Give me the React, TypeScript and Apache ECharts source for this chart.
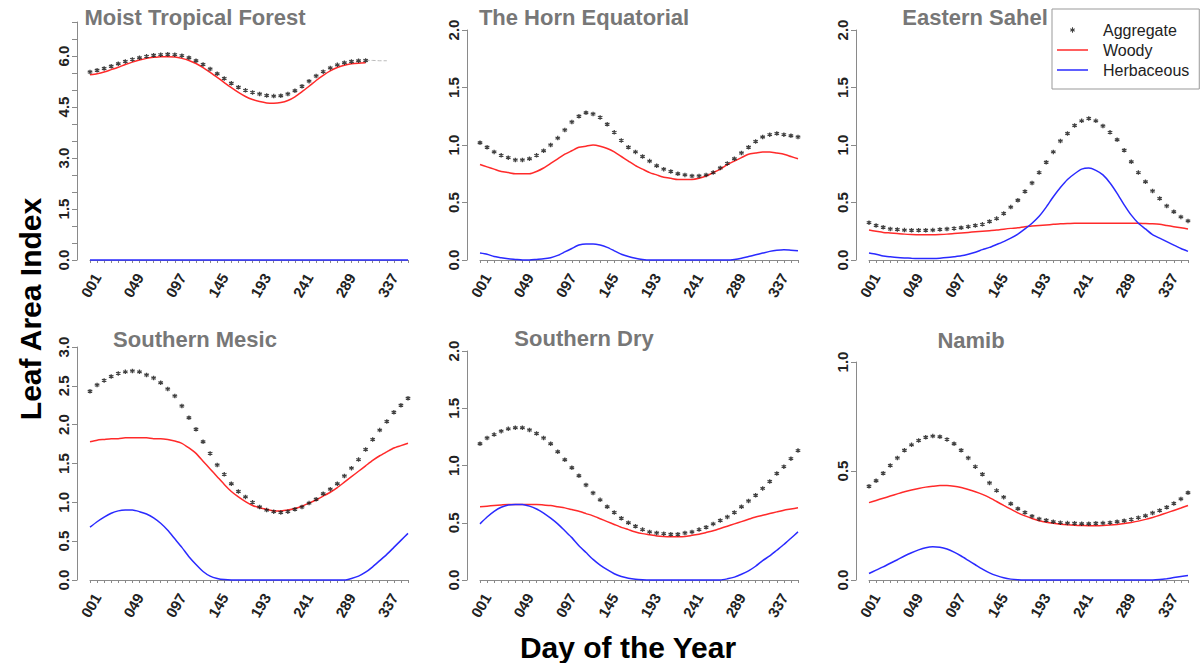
import React, { useEffect, useRef } from 'react';
import * as echarts from 'echarts';

const FONT = '"Liberation Sans", Arial, Helvetica, sans-serif';

const DAY_LABELS = ['001','009','017','025','033','041','049','057','065','073','081','089','097','105','113','121','129','137','145','153','161','169','177','185','193','201','209','217','225','233','241','249','257','265','273','281','289','297','305','313','321','329','337','345','353','361'];

const SERIES_NAMES = ['Aggregate', 'Woody', 'Herbaceous'];

// Moist Tropical Forest
const MTF_AGG = [5.53,5.58,5.63,5.70,5.77,5.84,5.90,5.95,5.99,6.02,6.04,6.05,6.04,6.01,5.95,5.86,5.75,5.62,5.48,5.34,5.20,5.08,4.99,4.93,4.88,4.84,4.82,4.83,4.88,4.98,5.11,5.26,5.41,5.54,5.65,5.74,5.80,5.84,5.86,5.87,null,null,null,null,null,null];
const MTF_AGG_TAIL = [null,null,null,null,null,null,null,null,null,null,null,null,null,null,null,null,null,null,null,null,null,null,null,null,null,null,null,null,null,null,null,null,null,null,null,null,null,null,null,5.87,5.87,5.86,5.86,null,null,null];
const MTF_WOODY = [5.45,5.48,5.53,5.60,5.67,5.75,5.82,5.88,5.93,5.96,5.98,5.98,5.97,5.93,5.87,5.78,5.66,5.52,5.37,5.22,5.07,4.93,4.81,4.72,4.66,4.62,4.61,4.63,4.69,4.80,4.95,5.11,5.28,5.43,5.56,5.66,5.73,5.77,5.79,5.80,null,null,null,null,null,null];
const MTF_HERB = [0,0,0,0,0,0,0,0,0,0,0,0,0,0,0,0,0,0,0,0,0,0,0,0,0,0,0,0,0,0,0,0,0,0,0,0,0,0,0,0,0,0,0,0,0,0];

// The Horn Equatorial
const HORN_AGG = [1.02,0.98,0.94,0.91,0.89,0.87,0.87,0.88,0.91,0.95,1.00,1.06,1.13,1.20,1.25,1.28,1.27,1.24,1.18,1.11,1.04,0.98,0.94,0.90,0.86,0.82,0.79,0.77,0.75,0.74,0.73,0.73,0.74,0.76,0.80,0.84,0.88,0.93,0.98,1.03,1.07,1.09,1.10,1.09,1.08,1.07];
const HORN_WOODY = [0.83,0.81,0.79,0.77,0.76,0.75,0.75,0.75,0.77,0.80,0.84,0.88,0.92,0.95,0.98,0.99,1.00,0.99,0.97,0.94,0.90,0.86,0.82,0.79,0.76,0.74,0.72,0.71,0.70,0.70,0.70,0.71,0.73,0.76,0.79,0.83,0.86,0.89,0.92,0.93,0.94,0.94,0.93,0.92,0.90,0.88];
const HORN_HERB = [0.06,0.05,0.03,0.02,0.01,0.005,0,0,0.005,0.01,0.02,0.04,0.07,0.10,0.13,0.14,0.14,0.13,0.11,0.08,0.05,0.03,0.015,0.005,0,0,0,0,0,0,0,0,0,0,0,0,0.005,0.015,0.03,0.045,0.06,0.075,0.085,0.09,0.085,0.08];

// Eastern Sahel
const SAHEL_AGG = [0.325,0.30,0.285,0.27,0.265,0.26,0.258,0.258,0.258,0.26,0.265,0.27,0.275,0.28,0.29,0.30,0.31,0.335,0.36,0.405,0.46,0.52,0.595,0.67,0.76,0.85,0.94,1.035,1.10,1.17,1.21,1.23,1.21,1.165,1.11,1.045,0.955,0.855,0.76,0.68,0.60,0.535,0.47,0.42,0.375,0.34];
const SAHEL_WOODY = [0.26,0.25,0.24,0.235,0.23,0.225,0.222,0.22,0.22,0.22,0.222,0.225,0.23,0.235,0.24,0.245,0.25,0.255,0.26,0.268,0.275,0.28,0.29,0.295,0.30,0.305,0.31,0.315,0.318,0.32,0.32,0.32,0.32,0.32,0.32,0.32,0.32,0.32,0.32,0.318,0.315,0.31,0.30,0.29,0.28,0.27];
const SAHEL_HERB = [0.06,0.05,0.035,0.028,0.022,0.018,0.015,0.013,0.012,0.013,0.016,0.021,0.028,0.036,0.05,0.068,0.09,0.11,0.135,0.16,0.19,0.225,0.27,0.32,0.38,0.46,0.55,0.63,0.70,0.75,0.79,0.80,0.78,0.74,0.67,0.58,0.48,0.39,0.32,0.27,0.22,0.19,0.16,0.13,0.10,0.075];

// Southern Mesic
const MESIC_AGG = [2.43,2.51,2.57,2.62,2.66,2.68,2.69,2.68,2.64,2.60,2.54,2.46,2.37,2.24,2.09,1.94,1.78,1.63,1.48,1.36,1.24,1.14,1.07,1.00,0.94,0.90,0.88,0.87,0.88,0.91,0.94,0.99,1.04,1.11,1.17,1.24,1.34,1.44,1.55,1.68,1.81,1.93,2.04,2.16,2.25,2.34];
const MESIC_WOODY = [1.78,1.80,1.81,1.82,1.82,1.83,1.83,1.83,1.83,1.82,1.82,1.81,1.79,1.76,1.70,1.63,1.53,1.43,1.33,1.23,1.14,1.07,1.01,0.96,0.93,0.91,0.89,0.89,0.90,0.92,0.95,0.99,1.03,1.08,1.13,1.19,1.26,1.33,1.40,1.47,1.54,1.60,1.65,1.70,1.73,1.76];
const MESIC_HERB = [0.68,0.75,0.81,0.86,0.89,0.90,0.90,0.88,0.85,0.80,0.73,0.64,0.53,0.42,0.30,0.20,0.11,0.05,0.02,0.005,0,0,0,0,0,0,0,0,0,0,0,0,0,0,0,0,0,0.02,0.05,0.10,0.17,0.25,0.33,0.42,0.51,0.60];

// Southern Dry
const DRY_AGG = [1.19,1.24,1.27,1.30,1.32,1.33,1.33,1.31,1.28,1.24,1.19,1.12,1.05,0.98,0.91,0.83,0.76,0.70,0.64,0.59,0.54,0.50,0.47,0.44,0.42,0.41,0.405,0.40,0.40,0.41,0.42,0.44,0.46,0.49,0.52,0.55,0.59,0.64,0.69,0.74,0.80,0.86,0.93,0.99,1.06,1.13];
const DRY_WOODY = [0.64,0.645,0.65,0.655,0.66,0.66,0.66,0.66,0.66,0.655,0.65,0.64,0.63,0.615,0.60,0.58,0.56,0.535,0.51,0.485,0.46,0.44,0.42,0.405,0.395,0.385,0.38,0.378,0.378,0.38,0.39,0.40,0.415,0.43,0.45,0.47,0.49,0.51,0.53,0.55,0.565,0.58,0.595,0.61,0.62,0.63];
const DRY_HERB = [0.49,0.55,0.60,0.635,0.655,0.66,0.66,0.645,0.62,0.585,0.54,0.49,0.43,0.37,0.30,0.24,0.18,0.13,0.09,0.055,0.03,0.015,0.006,0.002,0,0,0,0,0,0,0,0,0,0,0,0.01,0.025,0.05,0.08,0.12,0.17,0.21,0.26,0.31,0.365,0.42];

// Namib
const NAMIB_AGG = [0.43,0.455,0.49,0.525,0.56,0.595,0.62,0.64,0.655,0.66,0.657,0.645,0.625,0.595,0.56,0.52,0.485,0.445,0.41,0.38,0.35,0.327,0.31,0.293,0.28,0.274,0.267,0.263,0.261,0.26,0.258,0.258,0.26,0.261,0.263,0.267,0.272,0.278,0.286,0.295,0.307,0.319,0.334,0.351,0.372,0.40];
const NAMIB_WOODY = [0.355,0.365,0.375,0.385,0.395,0.405,0.413,0.42,0.426,0.43,0.433,0.433,0.43,0.424,0.415,0.405,0.393,0.378,0.36,0.342,0.325,0.308,0.294,0.282,0.272,0.265,0.26,0.256,0.253,0.251,0.25,0.249,0.249,0.25,0.252,0.255,0.259,0.264,0.27,0.278,0.287,0.297,0.308,0.319,0.33,0.342];
const NAMIB_HERB = [0.03,0.045,0.06,0.077,0.093,0.11,0.125,0.138,0.148,0.152,0.15,0.142,0.128,0.11,0.09,0.07,0.05,0.033,0.02,0.01,0.004,0.001,0,0,0,0,0,0,0,0,0,0,0,0,0,0,0,0,0,0,0,0.002,0.006,0.011,0.016,0.021];

const PANEL_TITLES = ['Moist Tropical Forest', 'The Horn Equatorial', 'Eastern Sahel', 'Southern Mesic', 'Southern Dry', 'Namib'];
const PANEL_AGG = [MTF_AGG, HORN_AGG, SAHEL_AGG, MESIC_AGG, DRY_AGG, NAMIB_AGG];
const PANEL_WOODY = [MTF_WOODY, HORN_WOODY, SAHEL_WOODY, MESIC_WOODY, DRY_WOODY, NAMIB_WOODY];
const PANEL_HERB = [MTF_HERB, HORN_HERB, SAHEL_HERB, MESIC_HERB, DRY_HERB, NAMIB_HERB];
const PANEL_YMAX = [7, 2, 2, 3, 2, 1];
const PANEL_YLABEL_STEP = [1.5, 0.5, 0.5, 0.5, 0.5, 0.5];

// layout (pixels)
const GRID_BOXES = [
  { left: 90, top: 22, width: 318, height: 238 },
  { left: 480, top: 30, width: 318, height: 230 },
  { left: 869, top: 30, width: 319, height: 230 },
  { left: 90, top: 347, width: 318, height: 233 },
  { left: 480, top: 351, width: 318, height: 229 },
  { left: 869, top: 362, width: 319, height: 218 },
];
const TITLE_POS = [[195, 17], [584, 17], [975, 17], [195, 339], [584, 338], [971, 340]];

const ASTERISK = 'path://M0,-5L0,5M-4.33,-2.5L4.33,2.5M-4.33,2.5L4.33,-2.5';
// legend icons: thin shapes centred in a 31x14 box (corner points fix the box)
const LEGEND_LINE_ICON = 'path://M0,0L0.01,0L0.01,0.01ZM0,6.2L31,6.2L31,7.8L0,7.8ZM31,14L30.99,14L30.99,13.99Z';
const LEGEND_STAR_ICON = 'path://M0,0L0.01,0L0.01,0.01ZM15,4.3L16,4.3L16,9.7L15,9.7ZM13.585,5.317L17.915,7.817L17.415,8.683L13.085,6.183ZM13.085,7.817L17.415,5.317L17.915,6.183L13.585,8.683ZM31,14L30.99,14L30.99,13.99Z';
const AXIS_GRAY = '#8a8a8a';
const RED = '#ff2a2a';
const BLUE = '#2a2aff';

function buildOption() {
  const grid: any[] = [];
  const xAxis: any[] = [];
  const yAxis: any[] = [];
  const series: any[] = [];
  const graphic: any[] = [];

  PANEL_TITLES.forEach((title, k) => {
    grid.push({ ...GRID_BOXES[k], containLabel: false });
    xAxis.push({
      type: 'category',
      gridIndex: k,
      data: DAY_LABELS,
      boundaryGap: false,
      position: 'bottom',
      offset: 12,
      axisLine: { show: true, lineStyle: { color: AXIS_GRAY, width: 1 } },
      axisTick: { show: true, interval: 0, length: 3, lineStyle: { color: AXIS_GRAY } },
      axisLabel: {
        interval: (i: number) => i % 6 === 0,
        rotate: 60,
        align: 'center',
        verticalAlign: 'middle',
        padding: [7, 0, 0, 4],
        margin: 15,
        fontSize: 15,
        fontWeight: 'bold',
        color: '#222',
        fontFamily: FONT,
      },
      splitLine: { show: false },
    });
    const step = PANEL_YLABEL_STEP[k];
    yAxis.push({
      type: 'value',
      gridIndex: k,
      min: 0,
      max: PANEL_YMAX[k],
      interval: 0.5,
      offset: 13,
      axisLine: { show: true, lineStyle: { color: AXIS_GRAY, width: 1 } },
      axisTick: { show: true, length: 5, lineStyle: { color: AXIS_GRAY } },
      axisLabel: {
        rotate: 90,
        margin: 6,
        fontSize: 15,
        fontWeight: 'bold',
        color: '#222',
        fontFamily: FONT,
        formatter: (v: number) => {
          const r = v / step;
          return Math.abs(r - Math.round(r)) < 1e-6 ? v.toFixed(1) : '';
        },
      },
      splitLine: { show: false },
    });
    series.push({
      name: SERIES_NAMES[0],
      type: 'scatter',
      xAxisIndex: k,
      yAxisIndex: k,
      data: PANEL_AGG[k],
      symbol: ASTERISK,
      symbolSize: 4.5,
      itemStyle: { color: '#111', borderColor: '#111', borderWidth: 1.3 },
      clip: false,
      z: 3,
    });
    series.push({
      name: SERIES_NAMES[1],
      type: 'line',
      xAxisIndex: k,
      yAxisIndex: k,
      data: PANEL_WOODY[k],
      symbol: 'none',
      showSymbol: false,
      smooth: 0.2,
      clip: false,
      color: RED,
      lineStyle: { color: RED, width: 1.5 },
      z: 2,
    });
    series.push({
      name: SERIES_NAMES[2],
      type: 'line',
      xAxisIndex: k,
      yAxisIndex: k,
      data: PANEL_HERB[k],
      symbol: 'none',
      showSymbol: false,
      smooth: 0.2,
      clip: false,
      color: BLUE,
      lineStyle: { color: BLUE, width: 1.5 },
      z: 2,
    });
    graphic.push({
      type: 'text',
      x: TITLE_POS[k][0],
      y: TITLE_POS[k][1],
      style: {
        text: title,
        fill: '#777',
        font: `bold 22px ${FONT}`,
        textAlign: 'center',
        textVerticalAlign: 'middle',
      },
    });
  });

  series.push({
    name: 'tail',
    type: 'line',
    xAxisIndex: 0,
    yAxisIndex: 0,
    data: MTF_AGG_TAIL,
    symbol: 'none',
    showSymbol: false,
    clip: false,
    lineStyle: { color: '#bbb', width: 1, type: 'dashed' },
    z: 1,
  });

  graphic.push({
    type: 'text',
    x: 30,
    y: 309,
    rotation: Math.PI / 2,
    style: {
      text: 'Leaf Area Index',
      fill: '#000',
      font: `bold 30px ${FONT}`,
      textAlign: 'center',
      textVerticalAlign: 'middle',
    },
  });
  graphic.push({
    type: 'text',
    x: 628,
    y: 647,
    style: {
      text: 'Day of the Year',
      fill: '#000',
      font: `bold 30px ${FONT}`,
      textAlign: 'center',
      textVerticalAlign: 'middle',
    },
  });

  return {
    animation: false,
    backgroundColor: '#fff',
    grid,
    xAxis,
    yAxis,
    series,
    graphic,
    legend: {
      data: [
        { name: 'Aggregate', icon: LEGEND_STAR_ICON, itemStyle: { color: '#111', borderWidth: 0 } },
        { name: 'Woody', icon: LEGEND_LINE_ICON, itemStyle: { color: RED, borderWidth: 0 } },
        { name: 'Herbaceous', icon: LEGEND_LINE_ICON, itemStyle: { color: BLUE, borderWidth: 0 } },
      ],
      orient: 'vertical',
      left: 1052,
      top: 9,
      padding: [13, 10, 11, 5],
      itemGap: 4,
      itemWidth: 31,
      itemHeight: 14,
      borderColor: '#999',
      borderWidth: 1,
      backgroundColor: '#fff',
      textStyle: { fontSize: 16, color: '#222', fontFamily: FONT, padding: [0, 0, 0, 10] },
    },
  };
}

export default function App() {
  const ref = useRef<HTMLDivElement>(null);
  useEffect(() => {
    if (!ref.current) return;
    const chart = echarts.init(ref.current, undefined, { renderer: 'svg' });
    chart.setOption(buildOption() as any);
    return () => chart.dispose();
  }, []);
  return (
    <div
      ref={ref}
      style={{ position: 'absolute', left: 0, top: 0, width: 1202, height: 663, background: '#fff' }}
    />
  );
}
